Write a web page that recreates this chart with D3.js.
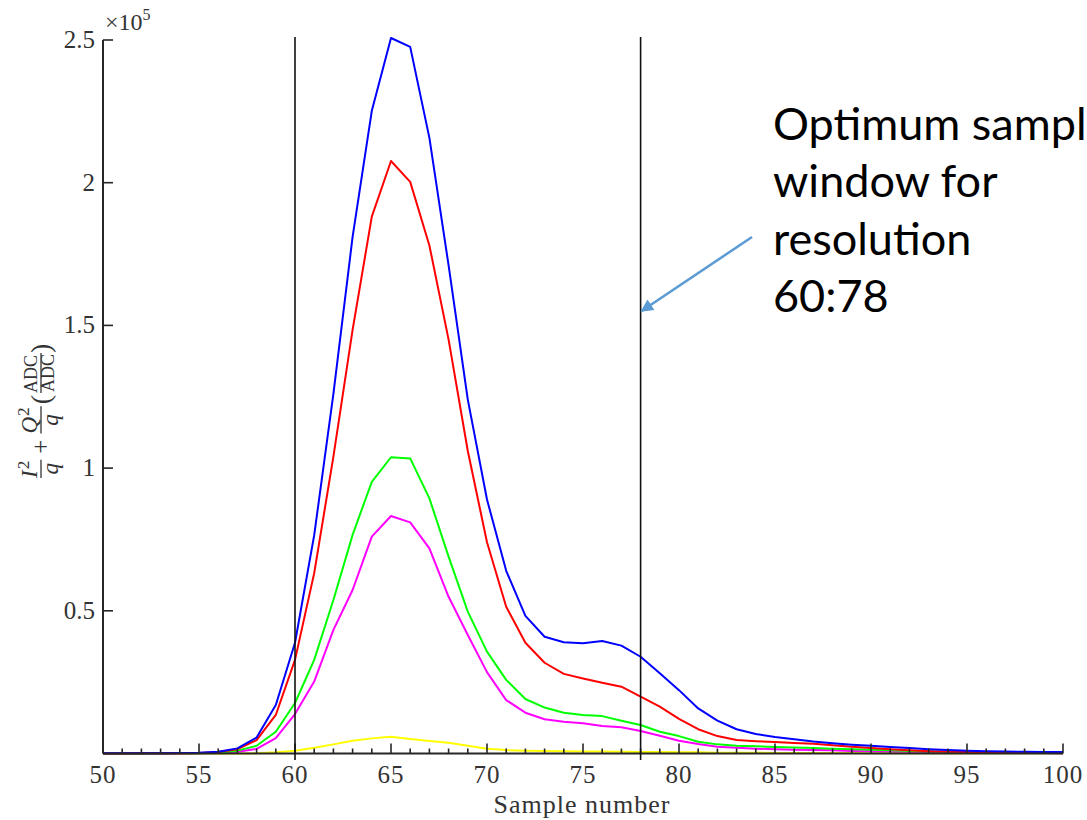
<!DOCTYPE html>
<html>
<head>
<meta charset="utf-8">
<script src="https://cdn.jsdelivr.net/npm/d3@7"></script>
<style>
  body { margin: 0; background: #fff; }
  svg { display: block; }
</style>
</head>
<body>
<script>
// sample numbers on the x axis
var samples = [50,51,52,53,54,55,56,57,58,59,60,61,62,63,64,65,66,67,68,69,70,
  71,72,73,74,75,76,77,78,79,80,81,82,83,84,85,86,87,88,89,90,
  91,92,93,94,95,96,97,98,99,100];

// I^2/q + Q^2/q, in units of 1e5
var blueVals = [0.001,0.001,0.001,0.001,0.002,0.003,0.006,0.018,0.056,0.170,0.388,0.765,1.26,1.81,2.252,2.507,2.476,2.157,1.71,1.24,0.89,
  0.64,0.482,0.409,0.39,0.386,0.394,0.378,0.339,0.281,0.222,0.158,0.115,0.085,0.068,0.058,0.05,0.042,0.036,0.031,0.027,
  0.023,0.019,0.015,0.012,0.01,0.008,0.007,0.006,0.005,0.005];
var redVals = [0,0,0.001,0.001,0.001,0.002,0.005,0.015,0.047,0.135,0.328,0.632,1.04,1.484,1.881,2.076,2.003,1.78,1.45,1.06,0.74,
  0.514,0.388,0.318,0.279,0.263,0.248,0.234,0.199,0.164,0.121,0.085,0.061,0.047,0.043,0.04,0.037,0.034,0.029,0.024,0.019,
  0.015,0.011,0.008,0.006,0.005,0.004,0.003,0.003,0.002,0.002];
var greenVals = [0,0,0,0.001,0.001,0.001,0.003,0.01,0.027,0.076,0.177,0.328,0.538,0.766,0.952,1.038,1.034,0.894,0.69,0.497,0.357,
  0.258,0.191,0.161,0.143,0.135,0.131,0.115,0.1,0.076,0.061,0.041,0.032,0.027,0.025,0.023,0.021,0.019,0.017,0.015,0.013,
  0.011,0.009,0.007,0.006,0.005,0.004,0.003,0.003,0.002,0.002];
var magentaVals = [0,0,0,0,0,0.001,0.002,0.006,0.016,0.054,0.138,0.252,0.433,0.573,0.76,0.832,0.81,0.719,0.549,0.415,0.285,
  0.187,0.143,0.12,0.111,0.106,0.096,0.092,0.079,0.062,0.045,0.033,0.024,0.02,0.017,0.015,0.013,0.012,0.011,0.009,0.008,
  0.007,0.006,0.005,0.004,0.003,0.003,0.002,0.002,0.002,0.001];
var yellowVals = [0,0,0,0,0,0,0,0,0.001,0.004,0.01,0.02,0.032,0.045,0.053,0.059,0.051,0.044,0.038,0.027,0.017,
  0.012,0.01,0.009,0.008,0.007,0.007,0.006,0.005,0.005,0.004,0.004,0.003,0.003,0.003,0.002,0.002,0.002,0.002,0.002,0.001,
  0.001,0.001,0.001,0.001,0.001,0.001,0.001,0.001,0.001,0.001];

var seriesNames = ["yellow", "magenta", "green", "red", "blue"];
var seriesVals = [yellowVals, magentaVals, greenVals, redVals, blueVals];
var seriesColors = ["#ffff00", "#ff00ff", "#00ff00", "#ff0000", "#0000ff"];

var xTicks = [50,55,60,65,70,75,80,85,90,95,100];
var yTicks = [0.5,1,1.5,2,2.5];
var windowBounds = [60, 78];
var noteLines = ["Optimum sample", "window for", "resolution", "60:78"];

var width = 1087, height = 820;
var margin = {top: 40, right: 24, bottom: 66.5, left: 103};
var axisColor = "#262626";
var serif = "'Liberation Serif', 'DejaVu Serif', serif";

var svg = d3.select("body").append("svg")
  .attr("width", width)
  .attr("height", height);

var x = d3.scaleLinear().domain([50, 100]).range([margin.left, width - margin.right]);
var y = d3.scaleLinear().domain([0, 2.5]).range([height - margin.bottom, margin.top]);

/* curves */
var line = d3.line()
  .x(function (d) { return x(d[0]); })
  .y(function (d) { return y(d[1]); });

svg.append("g").attr("class", "curves")
  .selectAll("path")
  .data(seriesVals)
  .enter().append("path")
  .attr("fill", "none")
  .attr("stroke", function (d, i) { return seriesColors[i]; })
  .attr("stroke-width", 2)
  .attr("stroke-linejoin", "round")
  .attr("d", function (vals) {
    return line(vals.map(function (v, i) { return [samples[i], v]; }));
  });

/* x axis: minor ticks every sample, major every 5, pointing inward */
var x0 = y(0);
var xAxis = svg.append("g").attr("class", "x-axis");
xAxis.append("line")
  .attr("x1", x(50)).attr("x2", x(100))
  .attr("y1", x0).attr("y2", x0)
  .attr("stroke", axisColor).attr("stroke-width", 2);
xAxis.selectAll("line.tick")
  .data(samples)
  .enter().append("line")
  .attr("class", "tick")
  .attr("x1", function (d) { return x(d); })
  .attr("x2", function (d) { return x(d); })
  .attr("y1", x0)
  .attr("y2", function (d) { return x0 - (xTicks.indexOf(d) >= 0 ? 10 : 5); })
  .attr("stroke", axisColor).attr("stroke-width", 1.6);
xAxis.selectAll("text")
  .data(xTicks)
  .enter().append("text")
  .attr("x", function (d) { return x(d); })
  .attr("y", 783)
  .attr("text-anchor", "middle")
  .attr("font-family", serif)
  .attr("font-size", 25)
  .attr("letter-spacing", 1)
  .attr("fill", "#333")
  .text(function (d) { return d; });

/* y axis */
var yAxis = svg.append("g").attr("class", "y-axis");
yAxis.append("line")
  .attr("x1", x(50)).attr("x2", x(50))
  .attr("y1", y(2.5)).attr("y2", x0)
  .attr("stroke", axisColor).attr("stroke-width", 2);
yAxis.selectAll("line.tick")
  .data(yTicks)
  .enter().append("line")
  .attr("class", "tick")
  .attr("x1", x(50)).attr("x2", x(50) + 10)
  .attr("y1", function (d) { return y(d); })
  .attr("y2", function (d) { return y(d); })
  .attr("stroke", axisColor).attr("stroke-width", 1.6);
yAxis.selectAll("text")
  .data(yTicks)
  .enter().append("text")
  .attr("x", 95)
  .attr("y", function (d) { return y(d) + 8; })
  .attr("text-anchor", "end")
  .attr("font-family", serif)
  .attr("font-size", 25)
  .attr("fill", "#333")
  .text(function (d) { return d; });

/* exponent marker */
var expo = svg.append("text")
  .attr("x", 105).attr("y", 30)
  .attr("font-family", serif)
  .attr("font-size", 24)
  .attr("fill", "#333");
expo.append("tspan").text("\u00d710");
expo.append("tspan").attr("dy", -10).attr("font-size", 16).text("5");

/* x label */
svg.append("text")
  .attr("x", 582).attr("y", 813)
  .attr("text-anchor", "middle")
  .attr("font-family", serif)
  .attr("font-size", 26)
  .attr("letter-spacing", 1)
  .attr("fill", "#333")
  .text("Sample number");

/* y label: I^2/q + Q^2/q (ADC/ADC), built piece by piece then rotated */
var yl = svg.append("g")
  .attr("transform", "translate(41,478) rotate(-90)")
  .attr("fill", "#333")
  .attr("font-family", serif);
var cur = 0;
function frac(num, sup, den, italic, size) {
  var g = yl.append("g").attr("transform", "translate(" + cur + ",0)");
  var n = g.append("text").attr("y", -4).attr("font-size", size)
    .attr("font-style", italic ? "italic" : "normal");
  n.append("tspan").text(num);
  if (sup) n.append("tspan").attr("dx", 1).attr("dy", -8).attr("font-size", size * 0.75).attr("font-style", "normal").text(sup);
  var d = g.append("text").attr("y", size * 0.72).attr("font-size", size)
    .attr("font-style", italic ? "italic" : "normal").text(den);
  var w = Math.max(n.node().getComputedTextLength(), d.node().getComputedTextLength()) + 2;
  d.attr("x", (w - d.node().getComputedTextLength()) / 2);
  g.append("line").attr("x1", 0).attr("x2", w).attr("y1", 0).attr("y2", 0)
    .attr("stroke", "#333").attr("stroke-width", 1.3);
  cur += w;
}
function word(t, size, gap) {
  cur += gap;
  var el = yl.append("text").attr("x", cur).attr("y", size * 0.33).attr("font-size", size).text(t);
  cur += el.node().getComputedTextLength() + gap;
}
frac("I", "2", "q", true, 23);
word("+", 25, 6);
frac("Q", "2", "q", true, 23);
word("(", 28, 2);
frac("ADC", null, "ADC", false, 18);
word(")", 28, 0);

/* optimum window markers */
svg.append("g").attr("class", "window")
  .selectAll("line")
  .data(windowBounds)
  .enter().append("line")
  .attr("x1", function (d) { return x(d); })
  .attr("x2", function (d) { return x(d); })
  .attr("y1", 37).attr("y2", 760)
  .attr("stroke", "#111").attr("stroke-width", 1.6);

/* annotation */
var defs = svg.append("defs");
defs.append("marker")
  .attr("id", "arrowhead")
  .attr("viewBox", "0 0 10 10")
  .attr("refX", 9).attr("refY", 5)
  .attr("markerWidth", 6).attr("markerHeight", 5)
  .attr("markerUnits", "strokeWidth")
  .attr("orient", "auto")
  .append("path")
  .attr("d", "M0,0 L10,5 L0,10 z")
  .attr("fill", "#5b9bd5");

svg.append("line")
  .attr("x1", 752).attr("y1", 237)
  .attr("x2", x(78) + 1).attr("y2", 311)
  .attr("stroke", "#5b9bd5").attr("stroke-width", 2.5)
  .attr("marker-end", "url(#arrowhead)");

svg.append("g").attr("class", "note")
  .selectAll("text")
  .data(noteLines)
  .enter().append("text")
  .attr("x", 773)
  .attr("y", function (d, i) { return 140 + i * 57.3; })
  .attr("font-family", "Lato, 'Open Sans', sans-serif")
  .attr("font-size", 45)
  .attr("fill", "#000")
  .text(function (d) { return d; });
</script>
</body>
</html>
